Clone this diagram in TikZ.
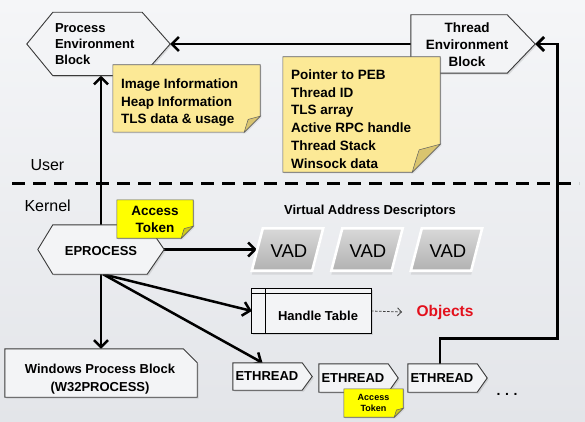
\documentclass[tikz,border=0pt]{standalone}
\usepackage{fontspec}
\setmainfont{Liberation Sans}
\usetikzlibrary{arrows.meta,shadows,calc}
\pgfdeclarelayer{back}
\pgfdeclarelayer{mid}
\pgfsetlayers{back,mid,main}
\definecolor{bgtop}{HTML}{F5F6F8}
\definecolor{bgbot}{HTML}{E3E5E9}
\definecolor{notey}{HTML}{FCE996}
\definecolor{notefold}{HTML}{D9C46F}
\definecolor{tokeny}{HTML}{FFFF00}
\definecolor{tokenfold}{HTML}{CFCB1A}
\definecolor{shapefill}{HTML}{F3F4F6}
\definecolor{edgec}{HTML}{3A3A3A}
\definecolor{vadtop}{HTML}{D8D8D8}
\definecolor{vadbot}{HTML}{B2B2B2}
\definecolor{objred}{HTML}{E3101C}
\newcommand\drawnote[4]{%
  \draw[draw=gray!75!black, line width=0.6pt, fill=#3, drop shadow={shadow xshift=1.2pt, shadow yshift=-1.2pt, opacity=0.2}]
    (#1.north west) -- (#1.north east) -- ([yshift=#2]#1.south east)
    -- ([xshift=-#2]#1.south east) -- (#1.south west) -- cycle;
  \draw[draw=gray!75!black, line width=0.5pt, fill=#4]
    ([xshift=-#2]#1.south east) .. controls ([xshift=-0.85*#2,yshift=0.5*#2]#1.south east) .. ([xshift=-0.75*#2,yshift=0.8*#2]#1.south east)
    .. controls ([xshift=-0.4*#2,yshift=0.9*#2]#1.south east) .. ([yshift=#2]#1.south east) -- cycle;
}
\begin{document}
\begin{tikzpicture}[x=1pt,y=-1pt,
  font=\bfseries\fontsize{13}{17}\selectfont,
  anchorbox/.style={rectangle, draw=none, inner sep=0pt},
  outline/.style={draw=edgec, line width=0.9pt, fill=shapefill,
    drop shadow={shadow xshift=1.5pt, shadow yshift=-1.5pt, opacity=0.22}},
  vadshape/.style={draw=white, line width=2.6pt, top color=vadtop, bottom color=vadbot,
    drop shadow={shadow xshift=0pt, shadow yshift=-4pt, opacity=0.18}},
  arr/.style={line width=2.5pt, -{Straight Barb[length=7pt,width=14pt]}},
]
\useasboundingbox (0,0) rectangle (585,422);

% ---------- nodes ----------
\node[anchorbox, minimum width=143pt, minimum height=63pt, text width=87pt, align=left,
  font=\bfseries\fontsize{13}{16}\selectfont] (peb) at (98.5,44) {Process\\Environment\\Block};
\node[anchorbox, minimum width=124pt, minimum height=58pt] (teb) at (473,44) {};
\node[align=center, font=\bfseries\fontsize{13.5}{17}\selectfont] (tebtext) at (467,44.5) {Thread\\Environment\\Block};
\node[anchorbox, minimum width=147pt, minimum height=67pt] (note1) at (186.5,98.5) {};
\node[anchor=west, align=left, inner sep=0pt,
  font=\bfseries\fontsize{13.5}{17.5}\selectfont] (note1text) at (121,103) {Image Information\\Heap Information\\TLS data \& usage};
\node[anchorbox, minimum width=157pt, minimum height=115pt] (note2) at (361.5,114.5) {};
\node[anchor=west, align=left, inner sep=0pt,
  font=\bfseries\fontsize{13.5}{17.7}\selectfont] (note2text) at (291,119) {Pointer to PEB\\Thread ID\\TLS array\\Active RPC handle\\Thread Stack\\Winsock data};
\node[anchor=west, font=\fontsize{16}{18}\selectfont] (user) at (27,165) {User};
\node[anchor=west, font=\fontsize{16}{18}\selectfont] (kernel) at (21,206) {Kernel};
\node[anchorbox, minimum width=126pt, minimum height=49pt] (eproc) at (101,249.5) {};
\node (eproctext) at (101,251.5) {EPROCESS};
\node[anchorbox, minimum width=76pt, minimum height=38pt, align=center,
  font=\bfseries\fontsize{13.5}{17}\selectfont] (tok1) at (155,219) {Access\\Token};
\node (vadlabel) at (370,211) {Virtual Address Descriptors};
\foreach \n/\x in {vad1/287.5, vad2/367, vad3/446.5}
  \node[anchorbox, minimum width=71pt, minimum height=42pt, font=\fontsize{18.5}{20}\selectfont] (\n) at (\x,249.5) {};
\foreach \n/\x in {vad1/289, vad2/368, vad3/448}
  \node[font=\fontsize{18.5}{20}\selectfont] (\n text) at (\x,251) {VAD};
\node[anchorbox, minimum width=119pt, minimum height=44pt] (ht) at (311.5,311) {};
\node (httext) at (318,315.5) {Handle Table};
\node[text=objred, font=\bfseries\fontsize{15.5}{18}\selectfont] (obj) at (445,312) {Objects};
\node[anchorbox, minimum width=192pt, minimum height=48pt] (w32) at (101,373) {};
\node[align=center, font=\bfseries\fontsize{13}{18.5}\selectfont] (w32text) at (100,379) {Windows Process Block\\(W32PROCESS)};
\node[anchorbox, minimum width=79pt, minimum height=27pt, text width=74pt, align=left] (e1) at (272.5,376.5) {ETHREAD};
\node[anchorbox, minimum width=79pt, minimum height=28pt, text width=74pt, align=left] (e2) at (358.5,378) {ETHREAD};
\node[anchorbox, minimum width=79pt, minimum height=28pt, text width=74pt, align=left] (e3) at (447.5,378) {ETHREAD};
\node[font=\bfseries\fontsize{14}{16}\selectfont] (dots) at (507,394) {.\,\,.\,\,.};
\node[anchorbox, minimum width=59pt, minimum height=28pt, align=center,
  font=\bfseries\fontsize{9}{11}\selectfont] (tok2) at (373.5,403) {Access\\Token};

% ---------- background, divider, connectors ----------
\begin{pgfonlayer}{back}
\shade[top color=bgtop, bottom color=bgbot] (0,0) rectangle (585,422);
\draw[line width=2.6pt, dash pattern=on 13pt off 8pt] (12,183.5) -- (579,183.5);
\draw[arr] (teb.west) -- (peb.east);
\draw[arr] (eproc.north) -- (eproc.north |- peb.south);
\draw[arr] (eproc.east) -- ([xshift=5pt]vad1.west);
\draw[arr] ([xshift=2pt]eproc.south) -- (ht.west);
\draw[arr] ([xshift=2pt]eproc.south) -- ([xshift=-10pt]e1.north);
\draw[arr] (eproc.south) -- (eproc.south |- w32.north);
\draw[line width=0.8pt, dash pattern=on 2.5pt off 1.5pt, draw=black!75,
  -{Straight Barb[length=4pt,width=8pt]}] (ht.east) -- ([xshift=-11pt]obj.west);
\draw[arr, line width=2.7pt] ([xshift=-7.5pt]e3.north) -- ++(0,-25) -| ([xshift=22pt]teb.east) -- (teb.east);
\end{pgfonlayer}

% ---------- shapes ----------
\begin{pgfonlayer}{mid}
\draw[outline] (peb.west) -- ([xshift=26pt]peb.north west) -- ([xshift=-28pt]peb.north east)
  -- (peb.east) -- ([xshift=-28pt]peb.south east) -- ([xshift=26pt]peb.south west) -- cycle;
\draw[outline] (teb.north west) -- ([xshift=-28pt]teb.north east) -- (teb.east)
  -- ([xshift=-28pt]teb.south east) -- (teb.south west) -- cycle;
\drawnote{note1}{16pt}{notey}{notefold}
\drawnote{note2}{28pt}{notey}{notefold}
\draw[outline] (eproc.west) -- ([xshift=15pt]eproc.north west) -- ([xshift=-17pt]eproc.north east)
  -- (eproc.east) -- ([xshift=-17pt]eproc.south east) -- ([xshift=15pt]eproc.south west) -- cycle;
\drawnote{tok1}{12pt}{tokeny}{tokenfold}
\foreach \n in {vad1,vad2,vad3}
  \path[vadshape] ([xshift=11pt]\n.north west) -- (\n.north east) -- ([xshift=-11pt]\n.south east)
    -- (\n.south west) -- cycle;
\draw[line width=1.1pt, fill=shapefill, drop shadow={shadow xshift=1.5pt, shadow yshift=-1.5pt, opacity=0.22}]
  (ht.north west) rectangle (ht.south east);
\draw[line width=1.1pt] ([yshift=-5pt]ht.north west) -- ([yshift=-5pt]ht.north east);
\draw[line width=1.1pt] ([xshift=14pt]ht.north west) -- ([xshift=14pt]ht.south west);
\draw[outline] (w32.north west) -- ([xshift=-14pt]w32.north east) -- ([yshift=-14pt]w32.north east)
  -- (w32.south east) -- (w32.south west) -- cycle;
\foreach \n in {e1,e2,e3}
  \draw[outline] (\n.north west) -- ([xshift=-10pt]\n.north east) -- (\n.east)
    -- ([xshift=-10pt]\n.south east) -- (\n.south west) -- cycle;
\drawnote{tok2}{9pt}{tokeny}{tokenfold}
\end{pgfonlayer}
\end{tikzpicture}
\end{document}
